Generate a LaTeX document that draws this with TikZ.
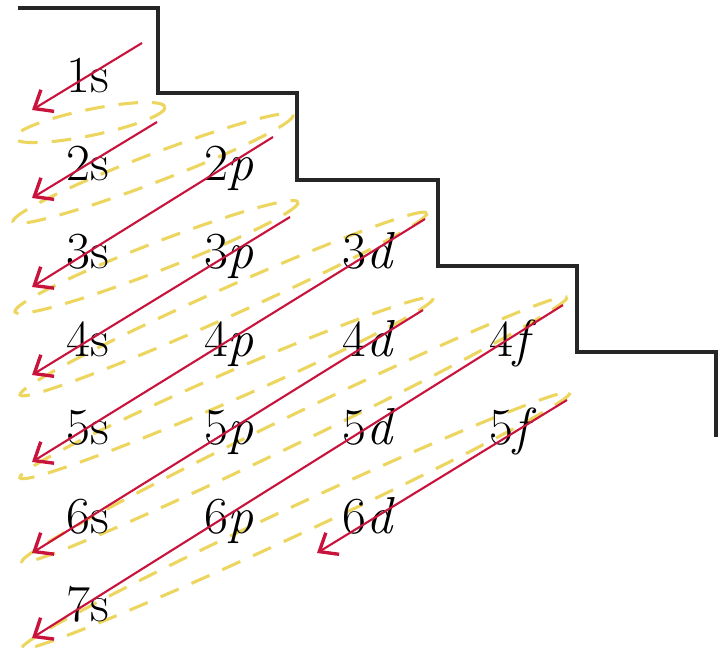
\documentclass[tikz,border=0pt]{standalone}
\usepackage{xcolor}
\usepackage{tikz}
\usetikzlibrary{arrows.meta}
\usetikzlibrary{positioning}
\definecolor{arrowRed}{RGB}{200,20,60}
\definecolor{ringYellow}{RGB}{236,214,96}

\begin{document}
\begin{tikzpicture}[x=0.025cm,y=-0.025cm]
\tikzstyle{orb}=[anchor=base, inner sep=0pt, font=\fontsize{37}{42}\selectfont]
\tikzstyle{stair}=[draw=black!85, line width=2.2pt]
\tikzstyle{ring}=[draw=ringYellow, line width=2.2pt, dash pattern=on 14pt off 10pt]
\tikzstyle{diag}=[-{Straight Barb[length=11pt,width=18pt,line width=2.4pt]}, draw=arrowRed, line width=1.5pt]
\useasboundingbox (0,0) rectangle (718,662);
% staircase
\draw[stair] (18,8) -| (158,93) -| (297,180) -| (438,266) -| (577,352) -| (716,437);
% dashed rings
\draw[ring, rotate around={11.7:(90,122.5)}] (90,122.5) ellipse [x radius=76.6, y radius=13];
\draw[ring, rotate around={20.9:(153,168.5)}] (153,168.5) ellipse [x radius=149.9, y radius=14];
\draw[ring, rotate around={21.2:(156.5,257)}] (156.5,257) ellipse [x radius=151.8, y radius=14];
\draw[ring, rotate around={24.1:(223.5,304)}] (223.5,304) ellipse [x radius=222.9, y radius=14];
\draw[ring, rotate around={23.5:(226.5,388)}] (226.5,388) ellipse [x radius=225.3, y radius=14];
\draw[ring, rotate around={25.9:(294.5,429.5)}] (294.5,429.5) ellipse [x radius=303, y radius=14];
\draw[ring, rotate around={25.0:(296,520.5)}] (296,520.5) ellipse [x radius=302.2, y radius=14];
% orbitals
\node[orb] (o1s) at (88,93) {1s};
\node[orb] (o2s) at (88,181) {2s};
\node[orb] (o2p) at (229,181) {2\textit{p}};
\node[orb] (o3s) at (88,269) {3s};
\node[orb] (o3p) at (229,269) {3\textit{p}};
\node[orb] (o3d) at (369,269) {3\textit{d}};
\node[orb] (o4s) at (88,357) {4s};
\node[orb] (o4p) at (229,357) {4\textit{p}};
\node[orb] (o4d) at (369,357) {4\textit{d}};
\node[orb] (o4f) at (513,357) {4\textit{f}};
\node[orb] (o5s) at (88,445) {5s};
\node[orb] (o5p) at (229,445) {5\textit{p}};
\node[orb] (o5d) at (369,445) {5\textit{d}};
\node[orb] (o5f) at (513,445) {5\textit{f}};
\node[orb] (o6s) at (88,533) {6s};
\node[orb] (o6p) at (229,533) {6\textit{p}};
\node[orb] (o6d) at (369,533) {6\textit{d}};
\node[orb] (o7s) at (88,621) {7s};
% filling order
\coordinate (t1) at (142,43);  \coordinate (h1) at (32,110);
\coordinate (t2) at (157,122); \coordinate (h2) at (32,198);
\coordinate (t3) at (273,137); \coordinate (h3) at (32,287);
\coordinate (t4) at (290,217); \coordinate (h4) at (32,375);
\coordinate (t5) at (425,219); \coordinate (h5) at (32,462);
\coordinate (t6) at (423,310); \coordinate (h6) at (32,553);
\coordinate (t7) at (563,305); \coordinate (h7) at (32,638);
\coordinate (t8) at (567,400); \coordinate (h8) at (317,553);
\draw[diag] (t1) -- (h1);
\draw[diag] (t2) -- (h2);
\draw[diag] (t3) -- (h3);
\draw[diag] (t4) -- (h4);
\draw[diag] (t5) -- (h5);
\draw[diag] (t6) -- (h6);
\draw[diag] (t7) -- (h7);
\draw[diag] (t8) -- (h8);
\end{tikzpicture}
\end{document}
